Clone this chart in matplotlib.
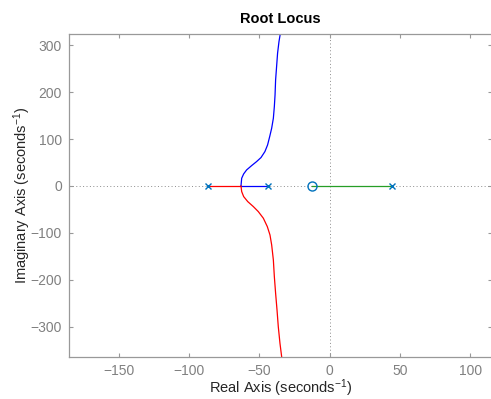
import matplotlib
matplotlib.use("Agg")
import matplotlib.pyplot as plt

plt.rcParams['font.family'] = ['Liberation Sans', 'DejaVu Sans']
plt.rcParams['mathtext.fontset'] = 'custom'
plt.rcParams['mathtext.rm'] = 'Liberation Sans'
plt.rcParams['mathtext.it'] = 'Liberation Sans:italic'
plt.rcParams['mathtext.bf'] = 'Liberation Sans:bold'

# Open-loop poles and zero (real axis)
poles = [-86.4, -43.6, 44.3]
zeros = [-12.9]
breakaway = -63.0

# Complex branches (real, imag) leaving the breakaway point
upper_re = [-63.0, -62.5, -61.1, -59.0, -55.4, -51.9, -48.8, -46.0, -44.1, -42.6,
            -41.2, -40.0, -39.3, -38.8, -38.4, -37.7, -37.0, -36.0, -35.1]
upper_im = [0.0, 16.4, 25.6, 34.1, 43.4, 51.9, 60.4, 73.2, 87.4, 105.2,
            123.0, 144.3, 169.2, 194.0, 226.0, 254.4, 282.9, 307.7, 324.0]
lower_re = [-63.0, -62.5, -61.1, -58.2, -54.2, -50.7, -47.1, -44.3, -42.4, -41.2,
            -40.0, -39.3, -38.4, -37.4, -36.5, -35.3, -34.1]
lower_im = [0.0, -12.1, -22.7, -33.4, -44.1, -54.7, -68.9, -86.7, -104.5, -125.8,
            -157.8, -193.3, -228.8, -264.4, -299.9, -335.5, -364.0]

xlim = (-185.2, 115.5)
ylim = (-364, 324)
xticks = [-150, -100, -50, 0, 50, 100]
yticks = [-300, -200, -100, 0, 100, 200, 300]

fig = plt.figure(figsize=(4.91, 3.99), dpi=100)
ax = fig.add_axes([0.1405, 0.106, 0.862, 0.809])

gray_grid = (0.55, 0.55, 0.55)
ax.axhline(0, color=gray_grid, lw=0.7, ls=(0, (1, 2.5)), zorder=1)
ax.axvline(0, color=gray_grid, lw=0.7, ls=(0, (1, 2.5)), zorder=1)

# Real-axis segments of each branch
ax.plot([poles[0], breakaway], [0, 0], color='red', lw=0.9, zorder=2)
ax.plot([poles[1], breakaway], [0, 0], color='blue', lw=0.9, zorder=2)
ax.plot([zeros[0], poles[2]], [0, 0], color=(0.15, 0.62, 0.15), lw=0.9, zorder=2)

# Complex-conjugate branches
ax.plot(upper_re, upper_im, color='blue', lw=0.9, zorder=2)
ax.plot(lower_re, lower_im, color='red', lw=0.9, zorder=2)

mk = (0.0, 0.447, 0.741)
ax.plot(poles, [0] * len(poles), ls='none', marker='x', ms=5, mew=1.0, color=mk, zorder=3)
ax.plot(zeros, [0] * len(zeros), ls='none', marker='o', ms=6.5, mew=1.0,
        mfc='none', mec=mk, zorder=3)

ax.set_xlim(*xlim)
ax.set_ylim(*ylim)
ax.set_xticks(xticks)
ax.set_yticks(yticks)

spine_c = (0.6, 0.6, 0.6)
for s in ax.spines.values():
    s.set_color(spine_c)
    s.set_linewidth(0.9)
ax.tick_params(direction='in', length=3, width=0.8, color=spine_c,
               labelcolor=(0.5, 0.5, 0.5), labelsize=10,
               top=True, right=True, pad=5)

ax.set_title('Root Locus', fontsize=10.5, fontweight='bold', color='black', pad=8)
ax.set_xlabel('Real Axis (seconds$^{-1}$)', fontsize=10.5, color=(0.15, 0.15, 0.15), labelpad=-0.5)
ax.set_ylabel('Imaginary Axis (seconds$^{-1}$)', fontsize=10.5, color=(0.15, 0.15, 0.15), labelpad=-1.5)

fig.savefig('out.png', dpi=100)
